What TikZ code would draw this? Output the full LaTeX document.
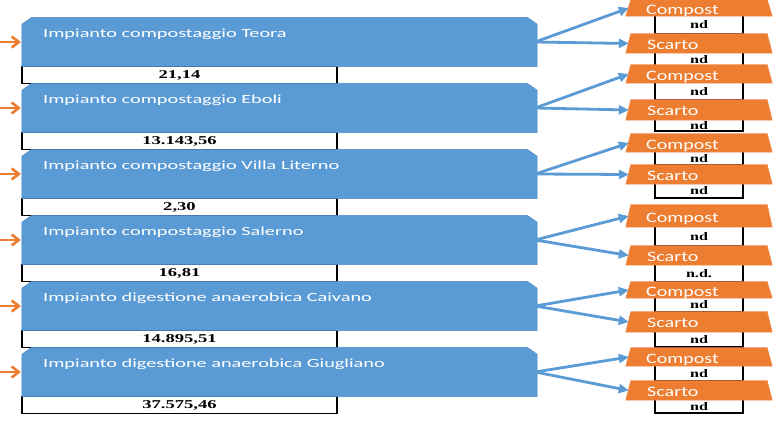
\documentclass[tikz,border=0pt]{standalone}
\usepackage{fontspec}
\usetikzlibrary{arrows.meta}
\newfontfamily\boxfont[FakeStretch=1.62]{Carlito}
\newfontfamily\trapfont[FakeStretch=1.38]{Carlito}
\newfontfamily\valfont[FakeStretch=1.55]{Liberation Serif}
\newfontfamily\ndfont[FakeStretch=1.4]{Liberation Serif}
\definecolor{boxblue}{HTML}{5B9BD5}
\definecolor{boxedge}{HTML}{4A87C2}
\definecolor{connblue}{HTML}{5B9BD5}
\definecolor{orng}{HTML}{ED7D31}
\definecolor{orngedge}{HTML}{F0894A}
\begin{document}
\begin{tikzpicture}[x=1pt,y=-1pt,
  bbox/.style={rectangle, minimum width=515pt, minimum height=49pt, inner sep=0pt},
  btext/.style={anchor=base west, inner sep=0pt, text=white, font=\boxfont\fontsize{12.5}{14}\selectfont},
  valbox/.style={rectangle, draw=black, line width=1.7pt, fill=white, minimum width=315pt, minimum height=17pt, inner sep=0pt, text depth=0pt, font=\valfont\bfseries\fontsize{12}{13}\selectfont},
  trapbox/.style={rectangle, minimum width=146pt, inner sep=0pt},
  trapfill/.style={fill=orng, draw=orngedge, line width=0.6pt},
  ttext/.style={anchor=base west, inner sep=0pt, text=white, font=\trapfont\fontsize{14.5}{16}\selectfont},
  ndbox/.style={rectangle, draw=black, line width=1.7pt, fill=white, minimum width=88pt, inner sep=0pt},
  ndtext/.style={inner sep=0pt, text depth=0pt, font=\ndfont\bfseries\fontsize{11.5}{12}\selectfont},
  conn/.style={draw=connblue, line width=2.8pt, -{Triangle[length=10pt,width=9pt]}},
  inarrow/.style={draw=orng, line width=2.8pt, -{Straight Barb[length=7pt,width=11pt,line width=2.6pt]}}
]
\useasboundingbox (0,0) rectangle (779,427);
\fill[white] (0,0) rectangle (779,427);

% blue plant boxes with value rows
\foreach \i/\t/\name/\val in {
  1/17.5/{Impianto compostaggio Teora}/{21,14},
  2/83.5/{Impianto compostaggio Eboli}/{13.143,56},
  3/149.5/{Impianto compostaggio Villa Literno}/{2,30},
  4/215.5/{Impianto compostaggio Salerno}/{16,81},
  5/281.5/{Impianto digestione anaerobica Caivano}/{14.895,51},
  6/347.5/{Impianto digestione anaerobica Giugliano}/{37.575,46}}{
  \pgfmathsetmacro\vy{\t+57.5}
  \pgfmathsetmacro\by{\t+24.5}
  \pgfmathsetmacro\ty{\t+20}
  \node[valbox] (v\i) at (179.5,\vy) {\val};
  \node[bbox] (b\i) at (279.5,\by) {};
  \filldraw[fill=boxblue, draw=boxedge, line width=0.5pt]
    ([yshift=-7pt]b\i.north west) -- ([xshift=10pt]b\i.north west)
    -- ([xshift=-10pt]b\i.north east) -- ([yshift=-7pt]b\i.north east)
    -- (b\i.south east) -- (b\i.south west) -- cycle;
  \node[btext] (bt\i) at (43,\ty) {\name};
  \coordinate (l\i) at (0,\by);
  \draw[inarrow] (l\i) -- ([xshift=-1pt]b\i.west);
}

% output column
\foreach \i/\cy/\ch/\sy/\sh/\ge/\nb in {
  1/8/16/43.5/19/66/nd,
  2/74/18/110/20/131/nd,
  3/143/18/174.5/19/198/nd,
  4/216/22/255.5/19/282/n.d.,
  5/290/16/322/20/347/nd,
  6/357/18/390.5/19/413/nd}{
  \pgfmathsetmacro\stop{\sy-\sh/2}
  \pgfmathsetmacro\ay{(\cy+\stop)/2}
  \pgfmathsetmacro\ah{\stop-\cy}
  \pgfmathsetmacro\rby{(\sy+\ge)/2}
  \pgfmathsetmacro\rbh{\ge-\sy}
  \pgfmathsetmacro\nay{(\cy+\ch/2+\stop)/2}
  \pgfmathsetmacro\nby{(\sy+\sh/2+\ge)/2}
  \pgfmathsetmacro\cty{\cy+6.5}
  \pgfmathsetmacro\sty{\sy+6}
  \node[ndbox, minimum height=\ah pt] (ra\i) at (699,\ay) {};
  \node[ndbox, minimum height=\rbh pt] (rb\i) at (699,\rby) {};
  \node[trapbox, minimum height=\ch pt] (c\i) at (699,\cy) {};
  \filldraw[trapfill] (c\i.south west) -- ([xshift=5pt]c\i.north west)
    -- ([xshift=-5pt]c\i.north east) -- (c\i.south east) -- cycle;
  \node[trapbox, minimum height=\sh pt] (s\i) at (699,\sy) {};
  \filldraw[trapfill] (s\i.south west) -- ([xshift=5pt]s\i.north west)
    -- ([xshift=-5pt]s\i.north east) -- (s\i.south east) -- cycle;
  \node[ttext] (ct\i) at (646,\cty) {Compost};
  \node[ttext] (st\i) at (647,\sty) {Scarto};
  \node[ndtext] (na\i) at (699,\nay) {nd};
  \node[ndtext] (nb\i) at (699,\nby) {\nb};
  \draw[conn] ([xshift=-2pt]b\i.east) -- ([xshift=3pt]c\i.west);
  \draw[conn] ([xshift=-2pt]b\i.east) -- ([xshift=3pt]s\i.west);
}
\end{tikzpicture}
\end{document}
